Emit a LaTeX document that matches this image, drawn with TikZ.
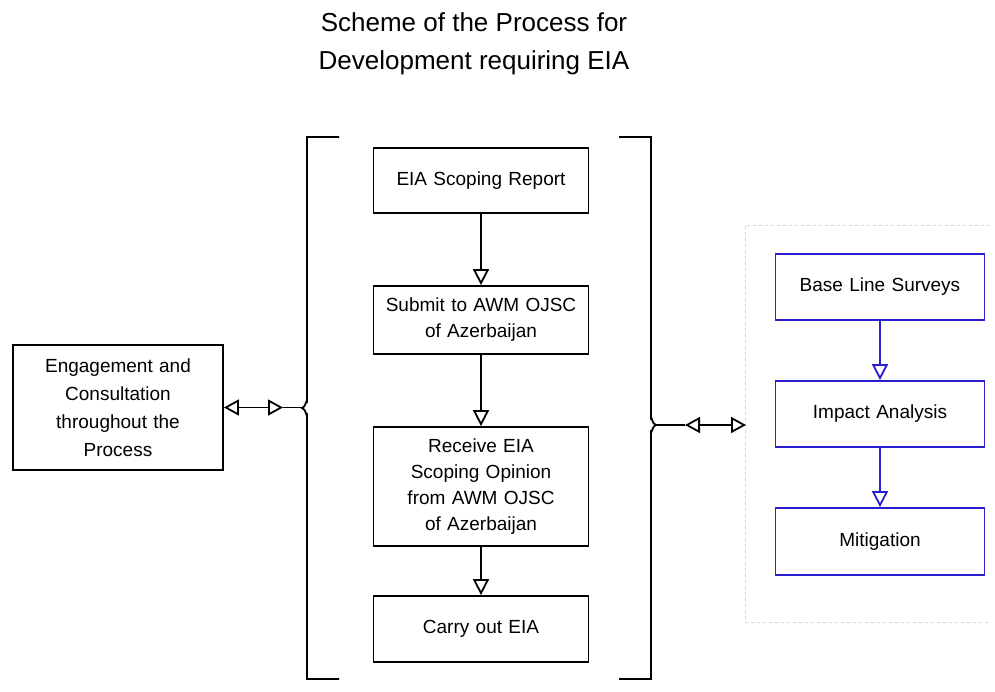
\documentclass[tikz,border=0pt]{standalone}
\usepackage{fontspec}
\setmainfont{Liberation Sans}
\usepackage{tikz}
\usetikzlibrary{arrows.meta,positioning}
\usepackage{xcolor}
\definecolor{boxblue}{HTML}{2A1FD0}

\begin{document}
\begin{tikzpicture}[x=1pt, y=-1pt, line width=1.8pt,
  box/.style={draw=black, fill=white, minimum width=215pt, text width=205pt, align=center, inner sep=2pt, font=\fontsize{19}{26}\selectfont},
  bluebox/.style={box, draw=boxblue, minimum width=209pt, text width=199pt},
  openarrow/.style={-{Triangle[open, length=16pt, width=16pt]}},
  dblarrow/.style={{Triangle[open, length=15pt, width=16pt]}-{Triangle[open, length=15pt, width=16pt]}}]
  \useasboundingbox (0,0) rectangle (995,691);

  % Title
  \node[font=\fontsize{26}{38}\selectfont, align=center] (title) at (474, 44) {Scheme of the Process for\\Development requiring EIA};

  % Faint frame round the right column
  \draw[gray!35, line width=0.8pt, dashed] (990,225) -- (745,225) -- (745,622) -- (990,622);

  % Centre column
  \node[box, minimum height=65pt] (scoping) at (481, 180.5) {EIA Scoping Report};
  \node[box, minimum height=68pt] (submit) at (481, 320) {Submit to AWM OJSC\\of Azerbaijan};
  \node[box, minimum height=119pt] (receive) at (481, 486.5) {Receive EIA\\Scoping Opinion\\from AWM OJSC\\of Azerbaijan};
  \node[box, minimum height=66pt] (carry) at (481, 629) {Carry out EIA};

  \draw[openarrow] (scoping) -- (submit);
  \draw[openarrow] (submit) -- (receive);
  \draw[openarrow] (receive) -- (carry);

  % Left box
  \node[box, minimum width=210pt, text width=180pt, minimum height=125pt, font=\fontsize{19}{28}\selectfont] (engage) at (118, 407.5) {Engagement and\\Consultation\\throughout the\\Process};

  % Right column
  \node[bluebox, minimum height=66pt] (base) at (880, 287) {Base Line Surveys};
  \node[bluebox, minimum height=66pt] (impact) at (880, 414) {Impact Analysis};
  \node[bluebox, minimum height=67pt] (mitig) at (880, 541.5) {Mitigation};

  \draw[openarrow, boxblue] (base) -- (impact);
  \draw[openarrow, boxblue] (impact) -- (mitig);

  % Brackets
  \draw (339,137) -- (307,137) -- (307,401) to[out=90, in=0] (302,408) to[out=0, in=-90] (307,415) -- (307,679) -- (339,679);
  \draw (619,137) -- (651,137) -- (651,418) to[out=90, in=180] (656,425) to[out=180, in=-90] (651,432) -- (651,679) -- (619,679);

  % Links to the brackets
  \coordinate (lmid) at (283, 407.5);
  \coordinate (lcusp) at (302, 407.5);
  \coordinate (rcusp) at (656, 425);
  \coordinate (rmid) at (685, 425);
  \coordinate (rframe) at (746, 425);
  \draw[dblarrow] (engage.east) -- (lmid);
  \draw (lmid) -- (lcusp);
  \draw (rcusp) -- (rmid);
  \draw[dblarrow] (rmid) -- (rframe);
\end{tikzpicture}
\end{document}
